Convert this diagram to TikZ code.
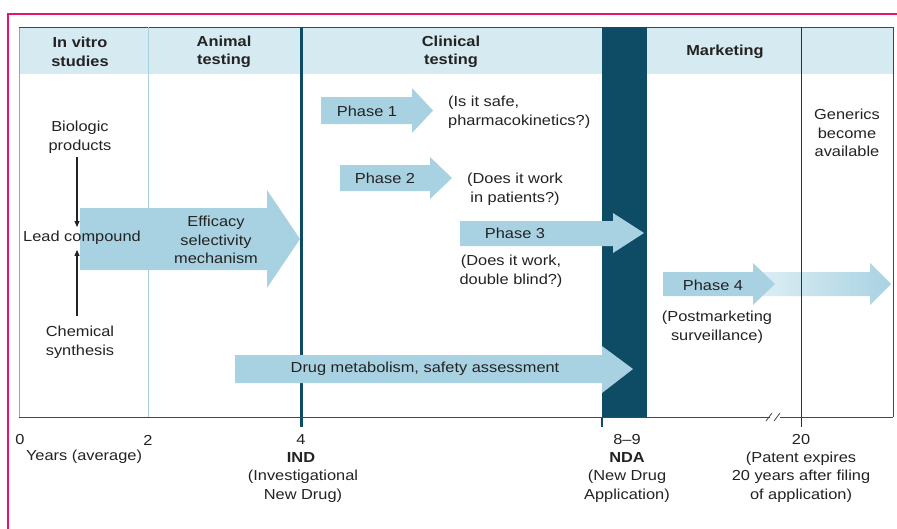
\documentclass[tikz,border=0pt]{standalone}
\usepackage{fontspec}
\setmainfont{Liberation Sans}[FakeStretch=1.13]
\usetikzlibrary{arrows.meta}
\definecolor{framepink}{RGB}{232,20,110}
\definecolor{hdrblue}{RGB}{214,234,242}
\definecolor{arrblue}{RGB}{168,210,226}
\definecolor{darkteal}{RGB}{14,76,102}
\definecolor{thinblue}{RGB}{170,208,222}
\definecolor{txtgray}{RGB}{35,35,35}
\definecolor{linegray}{RGB}{70,70,70}
\tikzset{
  txt/.style={text=txtgray, align=center, inner sep=0pt, font=\fontsize{14.5}{18.5}\selectfont},
  hdr/.style={txt, font=\fontsize{14.5}{18.5}\selectfont\bfseries},
  bigarrow/.style={fill=arrblue},
  vline/.style={draw=txtgray, line width=1.1pt, -{Triangle[length=6pt,width=5pt]}},
}
\begin{document}
\begin{tikzpicture}[x=1pt,y=-1pt]
\useasboundingbox (0,0) rectangle (897,528);
\fill[white] (0,0) rectangle (897,528);
% pink frame
\draw[framepink, line width=2.5pt] (8,530) -- (8,14) -- (899,14);
% header band
\fill[hdrblue] (19,27) rectangle (893,74);
% box lines
\draw[linegray!50, line width=0.6pt] (19,27) -- (19,417);
\draw[linegray, line width=1pt] (19,27) -- (893,27);
\draw[linegray, line width=0.8pt] (893,27) -- (893,417);
% vertical lines
\draw[thinblue, line width=1pt] (148,27) -- (148,417);
\draw[darkteal, line width=3pt] (301,27) -- (301,427);
\fill[darkteal] (602,27) rectangle (647,417);
\draw[darkteal, line width=1.5pt] (602,417) -- (602,427);
% arrows
\fill[bigarrow] (80,208) -- (267,208) -- (267,190) -- (300,239) -- (267,288) -- (267,270) -- (80,270) -- cycle;
\fill[bigarrow] (321,97) -- (412,97) -- (412,88) -- (433,110.5) -- (412,133) -- (412,124) -- (321,124) -- cycle;
\fill[bigarrow] (340,165) -- (430,165) -- (430,157) -- (452,178) -- (430,199) -- (430,191) -- (340,191) -- cycle;
\fill[bigarrow] (460,221) -- (613,221) -- (613,213) -- (644,233) -- (613,253) -- (613,246) -- (460,246) -- cycle;
\shade[left color=arrblue!35, right color=arrblue] (753,272) -- (870,272) -- (870,263) -- (891,284) -- (870,305) -- (870,296) -- (753,296) -- cycle;
\fill[bigarrow] (663,272) -- (753,272) -- (753,263) -- (775,284) -- (753,305) -- (753,296) -- (663,296) -- cycle;
\fill[bigarrow] (235,355) -- (602,355) -- (602,346) -- (633,369) -- (602,393) -- (602,383) -- (235,383) -- cycle;
% x = 20 line
\draw[darkteal!80!black, line width=1pt] (801,27) -- (801,427);
% axis
\draw[linegray, line width=1pt] (19,417) -- (893,417);
\fill[white] (770,413) rectangle (780,421);
\draw[linegray, line width=0.8pt] (766,421) -- (772,413) (774,421) -- (780,413);
% headers
\node[hdr] (hvitro) at (80,52) {In vitro\\studies};
\node[hdr] (hanimal) at (224,52) {Animal\\testing};
\node[hdr] (hclin) at (451,52) {Clinical\\testing};
\node[hdr] (hmkt) at (725,52) {Marketing};
% left column
\node[txt] (bio) at (80,137) {Biologic\\products};
\node[txt] (lead) at (82,238) {Lead compound};
\node[txt] (chem) at (80,342) {Chemical\\synthesis};
\draw[vline] ([xshift=-3pt,yshift=-4pt]bio.south) -- ([xshift=-5pt,yshift=4pt]lead.north);
\draw[vline] ([xshift=-3pt,yshift=10pt]chem.north) -- ([xshift=-5pt,yshift=-5pt]lead.south);
% arrow labels
\node[txt] (eff) at (216,240) {Efficacy\\selectivity\\mechanism};
\node[txt] (p1) at (367,111) {Phase 1};
\node[txt, anchor=west, align=left] (q1) at (448,112) {(Is it safe,\\pharmacokinetics?)};
\node[txt] (p2) at (385,178) {Phase 2};
\node[txt] (q2) at (515,189) {(Does it work\\in patients?)};
\node[txt] (p3) at (515,233) {Phase 3};
\node[txt] (q3) at (511,271) {(Does it work,\\double blind?)};
\node[txt] (p4) at (713,285) {Phase 4};
\node[txt] (q4) at (717,327) {(Postmarketing\\surveillance)};
\node[txt] (gen) at (847,133) {Generics\\become\\available};
\node[txt] (drug) at (425,369) {Drug metabolism, safety assessment};
% axis labels
\node[txt] (t0) at (20,440) {0};
\node[txt] (t2) at (148,440) {2};
\node[txt] (t4) at (301,440) {4};
\node[txt] (t89) at (627,440) {8--9};
\node[txt] (t20) at (801,440) {20};
\node[txt] (years) at (84,457) {Years (average)};
\node[hdr] (ind) at (301,458) {IND};
\node[txt] (indt) at (303,486) {(Investigational\\New Drug)};
\node[hdr] (nda) at (627,458) {NDA};
\node[txt] (ndat) at (627,486) {(New Drug\\Application)};
\node[txt] (pat) at (801,477) {(Patent expires\\20 years after filing\\of application)};
\end{tikzpicture}
\end{document}
